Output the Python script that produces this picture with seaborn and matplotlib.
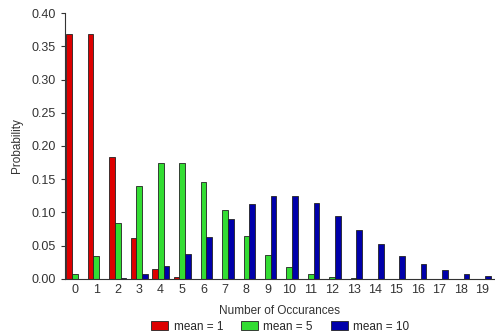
import pandas as pd
import numpy as np
import matplotlib
matplotlib.use("Agg")
import matplotlib.pyplot as plt
import seaborn as sns
from matplotlib.ticker import FixedLocator, FormatStrFormatter

# values
occurances = list(range(20))
mean_1 = [0.368, 0.368, 0.184, 0.061, 0.015, 0.003, 0.0005, 0, 0, 0,
          0, 0, 0, 0, 0, 0, 0, 0, 0, 0]
mean_5 = [0.007, 0.034, 0.084, 0.140, 0.175, 0.175, 0.146, 0.104, 0.065, 0.036,
          0.018, 0.008, 0.003, 0.0013, 0.0005, 0, 0, 0, 0, 0]
mean_10 = [0.0001, 0.0005, 0.002, 0.007, 0.019, 0.038, 0.063, 0.090, 0.113, 0.125,
           0.125, 0.114, 0.095, 0.073, 0.052, 0.035, 0.022, 0.013, 0.007, 0.004]
series_names = ["mean = 1", "mean = 5", "mean = 10"]
colors = ["#dd0000", "#33dd33", "#0000aa"]

df = pd.DataFrame({
    "k": occurances * 3,
    "p": mean_1 + mean_5 + mean_10,
    "series": [s for s in series_names for _ in occurances],
})

sns.set_style("white")
plt.rcParams["font.family"] = ["Liberation Sans", "DejaVu Sans"]

fig = plt.figure(figsize=(4.95, 3.36), dpi=100)
ax = fig.add_axes([0.131, 0.170, 0.867, 0.791])

sns.barplot(data=df, x="k", y="p", hue="series", hue_order=series_names,
            palette=colors, width=0.8, edgecolor="#222222", linewidth=0.6,
            saturation=1, ax=ax)

ax.set_xlim(-0.47, 19.55)
ax.set_ylim(0, 0.40)
ax.set_yticks(np.arange(0, 0.401, 0.05))
ax.yaxis.set_major_formatter(FormatStrFormatter("%.2f"))
ax.xaxis.set_minor_locator(FixedLocator([k + 0.5 for k in range(20)]))
ax.tick_params(axis="x", which="major", length=0, labelsize=9, colors="#333333", pad=4)
ax.tick_params(axis="x", which="minor", length=3, direction="inout", width=0.8, color="#333333")
ax.tick_params(axis="y", length=3, direction="out", width=0.8, labelsize=9,
               colors="#333333", left=True)
for side in ["top", "right"]:
    ax.spines[side].set_visible(False)
for side in ["left", "bottom"]:
    ax.spines[side].set_color("#333333")
    ax.spines[side].set_linewidth(0.8)

ax.set_xlabel("Number of Occurances", fontsize=8.5, color="#333333", labelpad=6)
ax.set_ylabel("Probability", fontsize=8.5, color="#333333", labelpad=6)

handles, labels = ax.get_legend_handles_labels()
ax.legend_.remove()
fig.legend(handles, labels, loc="lower center", bbox_to_anchor=(0.566, -0.022), ncol=3,
           frameon=False, fontsize=8.5, handlelength=1.45, handleheight=0.85,
           columnspacing=1.5, handletextpad=0.45)

fig.savefig("out.png", dpi=100)
